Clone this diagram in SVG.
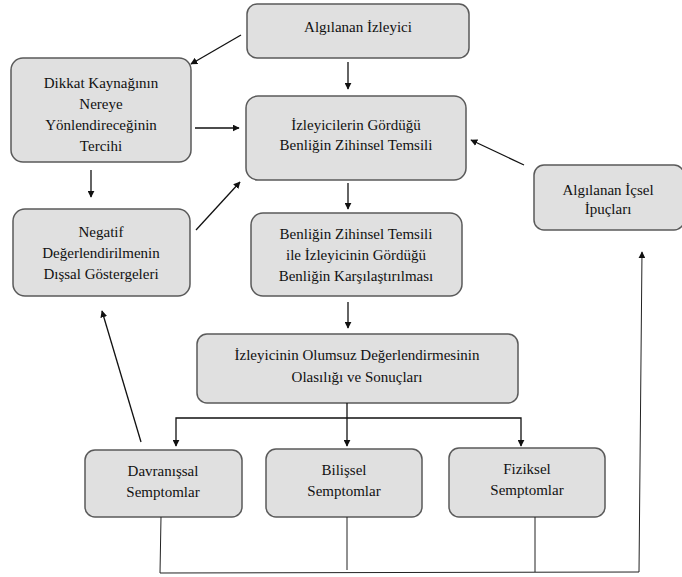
<svg xmlns="http://www.w3.org/2000/svg" width="682" height="577" viewBox="0 0 682 577">
<defs>
<marker id="a" viewBox="0 0 10 10" refX="9" refY="5" markerWidth="7" markerHeight="7" orient="auto-start-reverse" markerUnits="userSpaceOnUse">
<path d="M0,0 L10,5 L0,10 z" fill="#111"/>
</marker>
</defs>
<rect width="682" height="577" fill="#fff"/>
<g font-family="Liberation Serif, Times New Roman, serif" font-size="15" text-anchor="middle">
<g fill="#e0e0e0" stroke="#5a5a5a" stroke-width="1.5">
<rect id="n1" x="247" y="4" width="222" height="54" rx="10"/>
<rect id="n2" x="11" y="58" width="180" height="104" rx="12"/>
<rect id="n3" x="246" y="96" width="220" height="84" rx="12"/>
<rect id="n4" x="534" y="165" width="150" height="65" rx="10"/>
<rect id="n5" x="13" y="209" width="177" height="87" rx="12"/>
<rect id="n6" x="251" y="213" width="211" height="83" rx="12"/>
<rect id="n7" x="197" y="334" width="321" height="69" rx="10"/>
<rect id="n8" x="85" y="450" width="157" height="67" rx="10"/>
<rect id="n9" x="266" y="449" width="156" height="68" rx="10"/>
<rect id="n10" x="449" y="448" width="156" height="69" rx="10"/>
</g>
<g fill="#111">
<text x="358" y="32">Algılanan İzleyici</text>
<text x="101" y="88">Dikkat Kaynağının</text><text x="101" y="109">Nereye</text><text x="101" y="130">Yönlendireceğinin</text><text x="101" y="151">Tercihi</text>
<text x="356" y="130">İzleyicilerin Gördüğü</text><text x="356" y="150">Benliğin Zihinsel Temsili</text>
<text x="608" y="195">Algılanan İçsel</text><text x="608" y="214">İpuçları</text>
<text x="101" y="237">Negatif</text><text x="101" y="258">Değerlendirilmenin</text><text x="101" y="279">Dışsal Göstergeleri</text>
<text x="356" y="239">Benliğin Zihinsel Temsili</text><text x="356" y="260">ile İzleyicinin Gördüğü</text><text x="356" y="281">Benliğin Karşılaştırılması</text>
<text x="357" y="360">İzleyicinin Olumsuz Değerlendirmesinin</text><text x="357" y="382">Olasılığı ve Sonuçları</text>
<text x="163" y="476">Davranışsal</text><text x="163" y="497">Semptomlar</text>
<text x="344" y="475">Bilişsel</text><text x="344" y="496">Semptomlar</text>
<text x="527" y="474">Fiziksel</text><text x="527" y="495">Semptomlar</text>
</g>
</g>
<g id="connectors" fill="none">
<g stroke="#111" stroke-width="1.3">
<line x1="241" y1="35" x2="191" y2="64" marker-end="url(#a)"/>
<line x1="348" y1="62" x2="348" y2="89" marker-end="url(#a)"/>
<line x1="195" y1="128" x2="239" y2="128" marker-end="url(#a)"/>
<line x1="524" y1="165" x2="471" y2="140" marker-end="url(#a)"/>
<line x1="91" y1="170" x2="91" y2="197" marker-end="url(#a)"/>
<line x1="196" y1="230" x2="240" y2="182" marker-end="url(#a)"/>
<line x1="348" y1="183" x2="348" y2="209" marker-end="url(#a)"/>
<line x1="348" y1="302" x2="348" y2="328" marker-end="url(#a)"/>
<line x1="141" y1="442" x2="102" y2="311" marker-end="url(#a)"/>
<line x1="347" y1="403" x2="347" y2="446" marker-end="url(#a)"/>
<polyline points="176,446 176,418 521,418 521,446" marker-start="url(#a)" marker-end="url(#a)"/>
</g>
<g stroke="#222" stroke-width="1">
<polyline points="161,517 160,573 639,572 642,252" marker-end="url(#a)"/>
<line x1="347" y1="517" x2="347" y2="570"/>
<line x1="535" y1="517" x2="535" y2="572"/>
</g>
</g>
</svg>
